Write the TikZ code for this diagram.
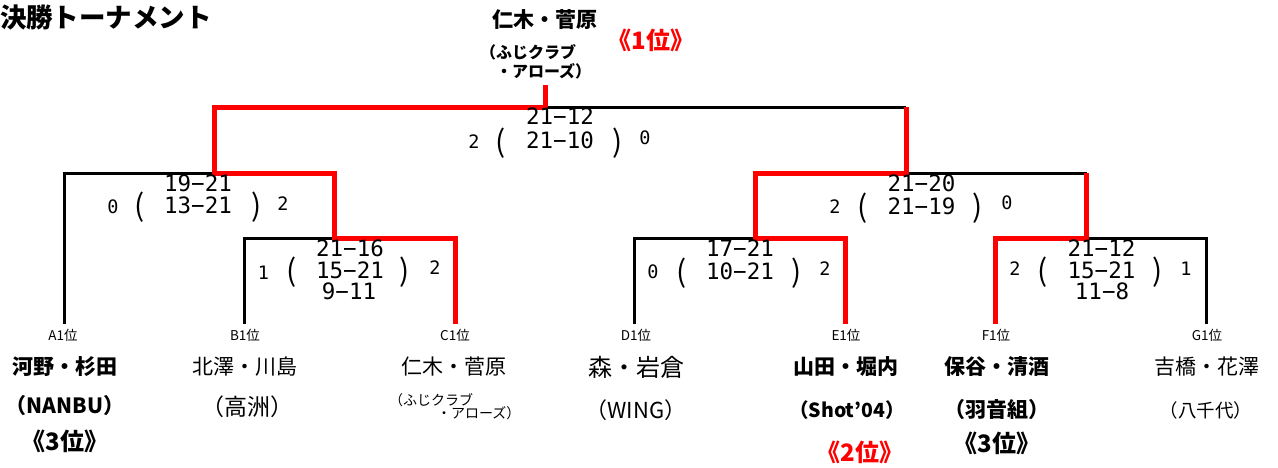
\documentclass[tikz,border=0pt]{standalone}
\usepackage{fontspec}
\setmainfont{Noto Sans CJK JP}
\newfontfamily\scfont{DejaVu Sans Mono}
\tikzset{
  blk/.style={line width=3pt, draw=black},
  rd/.style={line width=5pt, draw=red},
  txt/.style={inner sep=0pt, outer sep=0pt},
  nmb/.style={txt, font=\fontsize{21}{21}\selectfont\bfseries},
  nmr/.style={txt, font=\fontsize{21}{21}\selectfont},
  lbl/.style={txt, font=\fontsize{13.5}{13.5}\selectfont},
  rank/.style={txt, font=\fontsize{24}{24}\selectfont\bfseries},
  score/.style={txt, font=\fontsize{22.5}{22.5}\selectfont\scfont},
  games/.style={txt, font=\fontsize{18.5}{18.5}\selectfont\scfont},
  paren/.style={txt, font=\fontsize{30}{30}\selectfont},
}
\begin{document}
\begin{tikzpicture}[x=1pt,y=-1pt]
\useasboundingbox (0,0) rectangle (1278,467);
% leaf ends
\coordinate (A) at (64.5,324);
\coordinate (B) at (244.5,324);
\coordinate (C) at (455,324);
\coordinate (D) at (634.5,324);
\coordinate (E) at (845.5,324);
\coordinate (F) at (995.5,324);
\coordinate (G) at (1206.5,324);
% junctions
\coordinate (q1) at (334.5,238);
\coordinate (q2) at (755.5,238);
\coordinate (q3) at (1086.5,238);
\coordinate (s1) at (214,173);
\coordinate (s2) at (906,173);
\coordinate (f) at (545,107);
\coordinate (champ) at (545,85);
% black lines
\draw[blk] (A) |- (s1);
\draw[blk] (B) |- (q1);
\draw[blk] (D) |- (q2);
\draw[blk] (G) |- (q3);
\draw[blk] (s2) -- (q3 |- s2);
\draw[blk] (f) -- (f -| s2);
% red lines
\draw[rd] (C) |- (q1) |- (s1) |- (f) -- (champ);
\draw[rd] (E) |- (q2) |- (s2) -- (f -| s2);
\draw[rd] (F) |- (q3) -- (q3 |- s2);
% title
\node[txt, anchor=west, font=\fontsize{26.5}{26.5}\selectfont\bfseries] (title) at (0,17) {決勝トーナメント};
% champion
\node[nmb] (champname) at (545,20) {仁木・菅原};
\node[txt, anchor=west, font=\fontsize{16}{16}\selectfont\bfseries] (champclub1) at (480,52.5) {（ふじクラブ};
\node[txt, anchor=west, font=\fontsize{16}{16}\selectfont\bfseries] (champclub2) at (496,71) {・アローズ）};
\node[rank, text=red] (first) at (651,40) {《1位》};
% final score
\node[score] (f1) at (560,116.5) {21−12};
\node[score] (f2) at (560,140) {21−10};
\node[games] (fl) at (474,141.5) {2};
\node[paren] (fpl) at (501,143.5) {(};
\node[paren] (fpr) at (617.5,143.5) {)};
\node[games] (fr) at (645,138) {0};
% semi left
\node[score] (s11) at (198,183.5) {19−21};
\node[score] (s12) at (198,205) {13−21};
\node[games] (s1l) at (113,206.5) {0};
\node[paren] (s1pl) at (140,207.5) {(};
\node[paren] (s1pr) at (257,207.5) {)};
\node[games] (s1r) at (283,203.5) {2};
% semi right
\node[score] (s21) at (921.5,183.5) {21−20};
\node[score] (s22) at (921.5,206) {21−19};
\node[games] (s2l) at (835,207) {2};
\node[paren] (s2pl) at (863,208.5) {(};
\node[paren] (s2pr) at (978,208.5) {)};
\node[games] (s2r) at (1007,202.5) {0};
% quarter B-C
\node[score] (q11) at (350,248.5) {21−16};
\node[score] (q12) at (350,270) {15−21};
\node[score] (q13) at (349,291.5) {9−11};
\node[games] (q1l) at (263.5,272.5) {1};
\node[paren] (q1pl) at (292,272.5) {(};
\node[paren] (q1pr) at (405,272.5) {)};
\node[games] (q1r) at (435,267.5) {2};
% quarter D-E
\node[score] (q21) at (740,248.5) {17−21};
\node[score] (q22) at (740,271.5) {10−21};
\node[games] (q2l) at (653,271.5) {0};
\node[paren] (q2pl) at (682,273.5) {(};
\node[paren] (q2pr) at (797,273.5) {)};
\node[games] (q2r) at (825,268.5) {2};
% quarter F-G
\node[score] (q31) at (1101.5,248.5) {21−12};
\node[score] (q32) at (1101.5,270) {15−21};
\node[score] (q33) at (1102,291.5) {11−8};
\node[games] (q3l) at (1015,268.5) {2};
\node[paren] (q3pl) at (1043,272.5) {(};
\node[paren] (q3pr) at (1158,272.5) {)};
\node[games] (q3r) at (1186,268.5) {1};
% leaf labels
\node[lbl] (la) at (63,335) {A1位};
\node[lbl] (lb) at (245,335) {B1位};
\node[lbl] (lc) at (455,335) {C1位};
\node[lbl] (ld) at (636,335) {D1位};
\node[lbl] (le) at (846,335) {E1位};
\node[lbl] (lf) at (996,335) {F1位};
\node[lbl] (lg) at (1207,335) {G1位};
% names
\node[nmb] (na) at (65,367) {河野・杉田};
\node[nmr] (nb) at (245,367) {北澤・川島};
\node[nmr] (nc) at (454,367) {仁木・菅原};
\node[txt, font=\fontsize{24}{24}\selectfont] (nd) at (636,367) {森・岩倉};
\node[nmb] (ne) at (846,367) {山田・堀内};
\node[nmb] (nf) at (997,367) {保谷・清酒};
\node[nmr] (ng) at (1207,367) {吉橋・花澤};
% clubs
\node[txt, font=\fontsize{21}{21}\selectfont\bfseries] (ca) at (65,406) {（NANBU）};
\node[txt, font=\fontsize{23}{23}\selectfont] (cb) at (247,407) {（高洲）};
\node[txt, anchor=west, font=\fontsize{14}{14}\selectfont] (cc1) at (389,400) {（ふじクラブ};
\node[txt, anchor=west, font=\fontsize{14}{14}\selectfont] (cc2) at (437,413.5) {・アローズ）};
\node[txt, font=\fontsize{22}{22}\selectfont] (cd) at (636,410) {（WING）};
\node[txt, font=\fontsize{19.5}{19.5}\selectfont\bfseries] (ce) at (847,410) {（Shot’04）};
\node[txt, font=\fontsize{21}{21}\selectfont\bfseries] (cf) at (997,410) {（羽音組）};
\node[txt, font=\fontsize{18.5}{18.5}\selectfont] (cg) at (1206,410) {（八千代）};
% ranks
\node[rank] (ra) at (65,441) {《3位》};
\node[rank, text=red] (re) at (860,452) {《2位》};
\node[rank] (rf) at (997,443) {《3位》};
\end{tikzpicture}
\end{document}
